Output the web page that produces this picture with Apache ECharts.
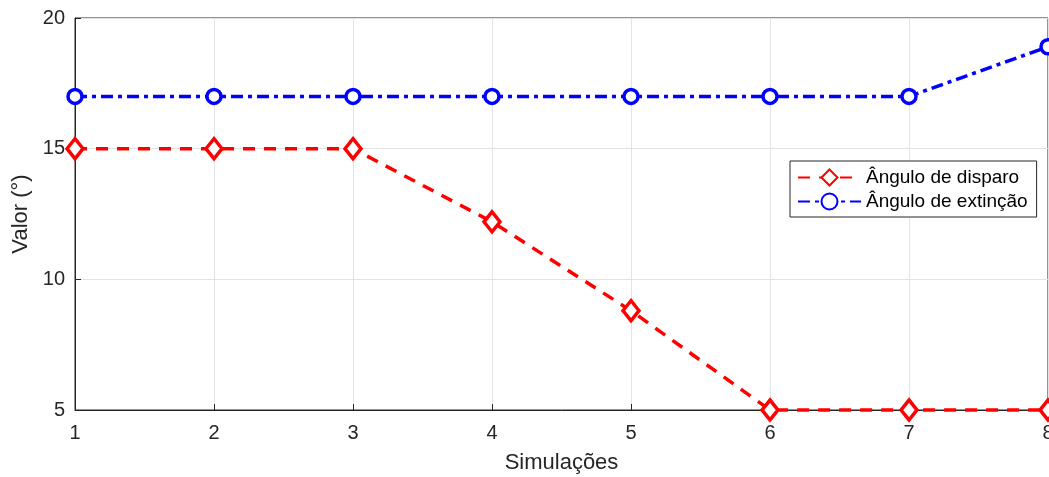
<!DOCTYPE html>
<html><head><meta charset="utf-8">
<script src="https://cdn.jsdelivr.net/npm/echarts@6/dist/echarts.min.js"></script>
<style>html,body{margin:0;padding:0;background:#fff}#c{width:1049px;height:477px}</style>
</head><body><div id="c"></div>
<script>
const categories = [1, 2, 3, 4, 5, 6, 7, 8];
const disparo = [15, 15, 15, 12.2, 8.8, 5, 5, 5];
const extincao = [17, 17, 17, 17, 17, 17, 17, 18.9];
const yTicks = [5, 10, 15, 20];
const seriesNames = ['Ângulo de disparo', 'Ângulo de extinção'];

const chart = echarts.init(document.getElementById('c'));
const font = 'Liberation Sans, Arial, sans-serif';
chart.setOption({
  animation: false,
  grid: { left: 75, right: 1, top: 18, bottom: 67, containLabel: false, outerBoundsMode: 'none',
    show: true, borderColor: '#262626', borderWidth: 1, backgroundColor: 'transparent' },
  xAxis: {
    type: 'value', min: 1, max: 8, interval: 1,
    name: 'Simulações', nameLocation: 'middle', nameGap: 42,
    nameTextStyle: { fontSize: 22, color: '#262626', fontFamily: font },
    axisLine: { show: true, lineStyle: { color: '#262626' } },
    axisTick: { show: true, inside: true, length: 6, lineStyle: { color: '#262626' } },
    axisLabel: { fontSize: 20, color: '#262626', fontFamily: font, margin: 13 },
    splitLine: { show: true, lineStyle: { color: '#e3e3e3' } }
  },
  yAxis: {
    type: 'value', min: 5, max: 20, interval: 5,
    name: 'Valor (°)', nameLocation: 'middle', nameGap: 41,
    nameTextStyle: { fontSize: 22, color: '#262626', fontFamily: font },
    axisLine: { show: true, lineStyle: { color: '#262626' } },
    axisTick: { show: true, inside: true, length: 6, lineStyle: { color: '#262626' } },
    axisLabel: { fontSize: 20, color: '#262626', fontFamily: font, margin: 10,
      formatter: v => yTicks.includes(v) ? String(v) : '' },
    splitLine: { show: true, lineStyle: { color: '#e3e3e3' } }
  },
  legend: {
    orient: 'vertical', left: 790, top: 161,
    backgroundColor: '#fff', borderColor: '#262626', borderWidth: 1,
    padding: [7, 9, 6, 7], itemGap: 5, itemWidth: 63, itemHeight: 20,
    textStyle: { fontSize: 19, color: '#000', fontFamily: font },
    data: seriesNames
  },
  series: [
    {
      name: seriesNames[0], type: 'line', data: categories.map((x, i) => [x, disparo[i]]),
      symbol: 'diamond', symbolSize: [16, 20], clip: false,
      lineStyle: { color: '#ff0000', width: 3.5, type: [12, 9] },
      itemStyle: { color: '#fff', borderColor: '#ff0000', borderWidth: 3.5 }
    },
    {
      name: seriesNames[1], type: 'line', data: categories.map((x, i) => [x, extincao[i]]),
      symbol: 'circle', symbolSize: 14, clip: false,
      lineStyle: { color: '#0000ff', width: 3.5, type: [12, 5, 4, 5] },
      itemStyle: { color: '#fff', borderColor: '#0000ff', borderWidth: 3.5 }
    }
  ]
});
</script></body></html>
